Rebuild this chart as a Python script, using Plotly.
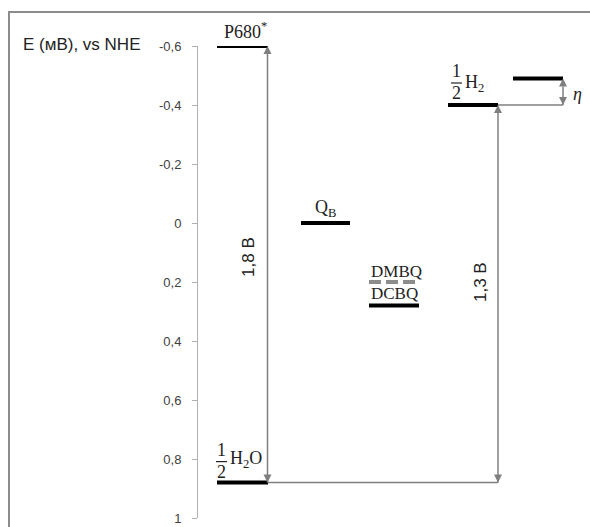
import plotly.graph_objects as go

# Redox potentials (V vs NHE) of each energy level
species = ["P680*", "1/2 H2O", "QB", "DMBQ", "DCBQ", "1/2 H2", "H2 overpotential"]
potential_V = [-0.60, 0.88, 0.00, 0.20, 0.28, -0.40, -0.49]

# Potential gaps shown with double arrows
gap_labels = ["1,8 В", "1,3 В"]

# Axis ticks
tick_vals = [-0.6, -0.4, -0.2, 0, 0.2, 0.4, 0.6, 0.8, 1.0]
tick_text = ["-0,6", "-0,4", "-0,2", "0", "0,2", "0,4", "0,6", "0,8", "1"]

E = dict(zip(species, potential_V))

# Horizontal extent of each level (x axis is in pixels from the y axis line)
spans = {
    "P680*": (19, 70),
    "1/2 H2O": (19, 70),
    "QB": (103, 152),
    "DMBQ": (171, 220),
    "DCBQ": (171, 221),
    "1/2 H2": (250, 300),
    "H2 overpotential": (315, 365),
}

SERIF = "Liberation Serif"
SANS = "Liberation Sans"
ARROW = "#7f7f7f"
TEXT = "#222222"
FRAME = "#8c8c8c"

W, H = 590, 527
ML, MT = 10, 13                 # frame corner
PW, PH = W - ML, H - MT         # area inside the frame
AX_X, AX_TOP, AX_BOT = 198, 46, 518   # main axis placement

fig = go.Figure()

for name in species:
    x0, x1 = spans[name]
    dashed = name == "DMBQ"
    fig.add_trace(go.Scatter(
        x=[x0, x1], y=[E[name], E[name]], mode="lines",
        line=dict(color="#8c8c8c" if dashed else "black", width=4,
                  dash="12px,5px" if dashed else "solid"),
        hoverinfo="skip", showlegend=False,
    ))

# Thin connector lines
fig.add_shape(type="line", xref="x", yref="y", x0=70, x1=300,
              y0=E["1/2 H2O"], y1=E["1/2 H2O"], line=dict(color=ARROW, width=1.5))
fig.add_shape(type="line", xref="x", yref="y", x0=300, x1=365,
              y0=E["1/2 H2"], y1=E["1/2 H2"], line=dict(color=ARROW, width=1.5))


def double_arrow(x, y_low, y_high):
    # y_low is the lower level on the page (larger potential), y_high the upper one
    fig.add_trace(go.Scatter(
        x=[x, x], y=[y_low, y_high], mode="lines+markers",
        line=dict(color=ARROW, width=1.5),
        marker=dict(symbol=["arrow-down", "arrow-up"], size=8, color=ARROW,
                    line=dict(width=0)),
        hoverinfo="skip", showlegend=False, cliponaxis=False,
    ))


double_arrow(69.5, E["1/2 H2O"], E["P680*"])
double_arrow(300, E["1/2 H2O"], E["1/2 H2"])
double_arrow(365, E["1/2 H2"], E["H2 overpotential"])

# Gap labels (rotated)
fig.add_annotation(x=51, y=0.115, text=gap_labels[0], textangle=-90, showarrow=False,
                   font=dict(family=SANS, size=17, color=TEXT))
fig.add_annotation(x=282, y=0.20, text=gap_labels[1], textangle=-90, showarrow=False,
                   font=dict(family=SANS, size=17, color=TEXT))


def label(x, y, text, shift, size=18, color=TEXT):
    fig.add_annotation(x=x, y=y, text=text, showarrow=False, yshift=shift,
                       font=dict(family=SERIF, size=size, color=color))


def fraction_half(x, y, bar_x0, bar_x1, shift):
    label(x, y, "1", shift + 12)
    label(x, y, "2", shift - 10)
    fig.add_shape(type="line", xref="x", yref="y", ysizemode="pixel", yanchor=y,
                  x0=bar_x0, x1=bar_x1, y0=shift, y1=shift,
                  line=dict(color=TEXT, width=1.2))


label(47, E["P680*"], "P680<sup>*</sup>", 16)
label(127, E["QB"], "Q<sub>B</sub>", 15)
label(198, E["DMBQ"], "DMBQ", 11, size=17)
label(196, E["DCBQ"], "DCBQ", 12, size=17)

fraction_half(23, E["1/2 H2O"], 18, 29, 21)
label(48, E["1/2 H2O"], "H<sub>2</sub>O", 23)

fraction_half(258, E["1/2 H2"], 253, 264, 22)
label(276, E["1/2 H2"], "H<sub>2</sub>", 22)

label(379, (E["1/2 H2"] + E["H2 overpotential"]) / 2, "<i>η</i>", -2, size=18)

# Axis title
fig.add_annotation(xref="paper", yref="paper", x=(21 - ML) / PW, y=(H - 44) / PH,
                   xanchor="left", yanchor="middle", text="E (мВ), vs NHE",
                   showarrow=False, font=dict(family=SANS, size=17, color=TEXT))

# Full-size helper axes whose lines form the top and left edges of the frame
fig.add_trace(go.Scatter(x=[None], y=[None], xaxis="x2", yaxis="y2",
                         hoverinfo="skip", showlegend=False))

fig.update_layout(
    width=W, height=H,
    margin=dict(l=ML, r=0, t=MT, b=0, pad=0, autoexpand=False),
    paper_bgcolor="white", plot_bgcolor="rgba(0,0,0,0)",
    xaxis=dict(visible=False, range=[0, W - AX_X], fixedrange=True, automargin=False,
               domain=[(AX_X - ML) / PW, 1], anchor="y"),
    yaxis=dict(range=[1, -0.6], tickvals=tick_vals, ticktext=tick_text,
               domain=[(H - AX_BOT) / PH, (H - AX_TOP) / PH], anchor="x",
               automargin=False,
               showline=True, linecolor="#b0b0b0", linewidth=1,
               ticks="outside", ticklen=5, tickcolor="#b0b0b0",
               ticklabelstandoff=8,
               showgrid=False, zeroline=False,
               tickfont=dict(family=SANS, size=13, color="#404040")),
    xaxis2=dict(domain=[0, 1], anchor="y2", range=[0, 1], side="top", automargin=False,
                showline=True, linecolor=FRAME, linewidth=1.5,
                showticklabels=False, ticks="", showgrid=False, zeroline=False),
    yaxis2=dict(domain=[0, 1], anchor="x2", range=[0, 1], side="left", automargin=False,
                showline=True, linecolor=FRAME, linewidth=1.5,
                showticklabels=False, ticks="", showgrid=False, zeroline=False),
    showlegend=False,
)

fig.write_html("out.html")
